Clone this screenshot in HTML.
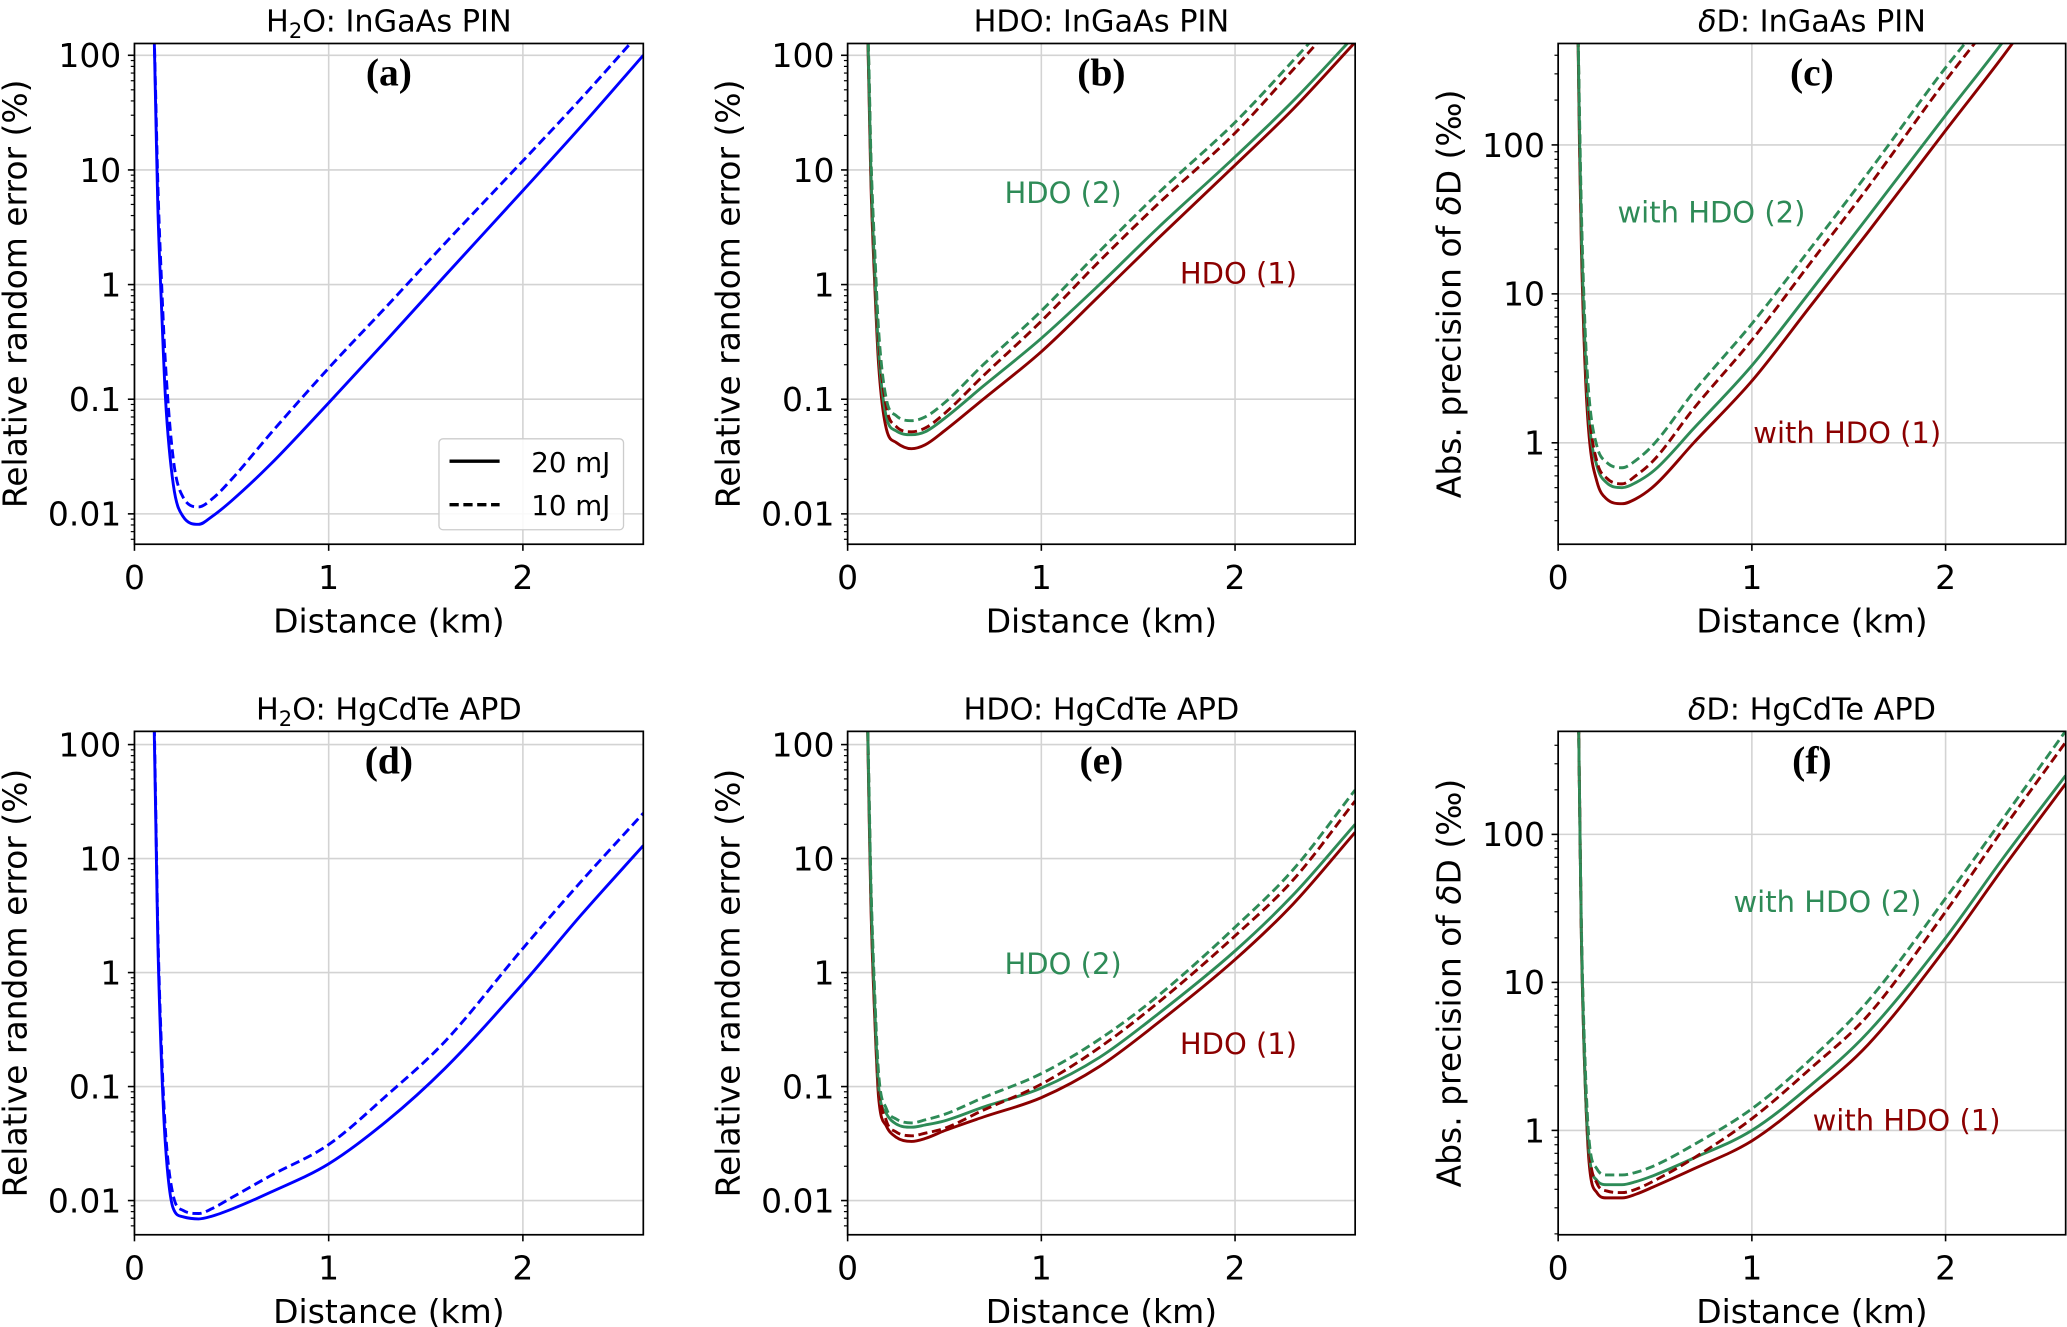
<!DOCTYPE html>
<html><head><meta charset="utf-8">
<style>
html,body{margin:0;padding:0;background:#fff}
svg{display:block}
text{font-family:"DejaVu Sans","Liberation Sans",sans-serif;fill:#000}
</style></head>
<body>
<svg id="fig" width="2067" height="1327" viewBox="0 0 1568 1007" preserveAspectRatio="none" xmlns="http://www.w3.org/2000/svg"></svg>
<script>
// ---- data ----
const distances = [0.1,0.11,0.12,0.14,0.16,0.2,0.25,0.33,0.4,0.5,0.7,1.0,1.3,1.6,2.0,2.3,2.62];
const h2oPin20 = [200,30,5,0.6,0.1,0.018,0.0095,0.0081,0.0095,0.013,0.027,0.093,0.33,1.2,6.6,24,100];
const h2oPin10 = [200,40,8,1,0.2,0.03,0.014,0.0115,0.0135,0.02,0.05,0.187,0.65,2.3,12,42,170];
const hdoPin1_20 = [300,50,8,1,0.2,0.055,0.042,0.037,0.04,0.053,0.1,0.26,0.8,2.5,11,34,130];
const hdoPin2_20 = [300,60,10,1.3,0.26,0.07,0.053,0.049,0.052,0.068,0.13,0.34,1.0,3.1,13,40,150];
const hdoPin1_10 = [300,70,12,1.6,0.33,0.085,0.058,0.052,0.056,0.075,0.16,0.48,1.6,5,21,75,300];
const hdoPin2_10 = [300,80,14,2,0.4,0.1,0.072,0.065,0.07,0.093,0.2,0.59,1.95,6.2,26,90,350];
const dPin1_20 = [1000,100,20,3,1.1,0.55,0.42,0.39,0.42,0.52,1.0,2.6,8.2,26,125,400,1500];
const dPin2_20 = [1000,120,25,4,1.4,0.7,0.54,0.5,0.54,0.66,1.25,3.3,10.3,33,158,500,1900];
const dPin1_10 = [1000,140,30,4.5,1.6,0.75,0.58,0.53,0.6,0.78,1.7,4.9,16,52,270,850,3000];
const dPin2_10 = [1000,170,36,5.5,2,0.95,0.74,0.68,0.76,1.0,2.2,6.3,20,65,330,1000,3600];
const h2oApd20 = [200,20,2,0.15,0.03,0.0085,0.0072,0.0069,0.0073,0.0084,0.0118,0.021,0.05,0.145,0.8,3.2,13];
const h2oApd10 = [250,25,2.6,0.2,0.04,0.011,0.0082,0.0077,0.0085,0.0106,0.0165,0.031,0.084,0.25,1.63,6.3,25];
const hdoApd1_20 = [300,30,4,0.4,0.08,0.045,0.036,0.033,0.035,0.041,0.054,0.08,0.15,0.36,1.3,4.0,17];
const hdoApd2_20 = [300,35,5,0.5,0.1,0.058,0.047,0.044,0.046,0.05,0.066,0.097,0.18,0.43,1.55,4.8,20];
const hdoApd1_10 = [300,40,5.5,0.55,0.11,0.05,0.04,0.037,0.039,0.043,0.062,0.105,0.22,0.54,2.1,6.5,32];
const hdoApd2_10 = [300,45,6.5,0.65,0.13,0.064,0.052,0.048,0.051,0.057,0.08,0.13,0.26,0.62,2.5,8,40];
const dApd1_20 = [2000,200,20,2,0.6,0.38,0.35,0.35,0.37,0.42,0.55,0.85,1.7,3.8,17,60,220];
const dApd2_20 = [2000,200,20,2,0.7,0.46,0.43,0.43,0.45,0.5,0.65,1.0,2.0,4.6,20,70,250];
const dApd1_10 = [2000,200,22,2.4,0.75,0.44,0.39,0.38,0.4,0.46,0.65,1.2,2.6,6,30,110,420];
const dApd2_10 = [2000,200,24,2.7,0.85,0.55,0.5,0.5,0.52,0.58,0.8,1.4,3,7.5,37,130,500];
const xTicks = [0,1,2];
const yTicksErr = [0.01,0.1,1,10,100];
const yTickLabelsErr = ["0.01","0.1","1","10","100"];
const yTicksD = [1,10,100];
const yTickLabelsD = ["1","10","100"];

const NS="http://www.w3.org/2000/svg";
const svg=document.getElementById('fig');
function mk(tag,attrs,parent){const e=document.createElementNS(NS,tag);for(const k in attrs)e.setAttribute(k,attrs[k]);(parent||svg).appendChild(e);return e;}
const BLUE="#0000ff",GREEN="#2e8b57",RED="#8b0000";

function smoothPath(P){
  const n=P.length;const d=[],m=new Array(n);
  for(let i=0;i<n-1;i++)d.push((P[i+1][1]-P[i][1])/(P[i+1][0]-P[i][0]));
  m[0]=d[0];m[n-1]=d[n-2];
  for(let i=1;i<n-1;i++){m[i]=(d[i-1]*d[i]<=0)?0:(d[i-1]+d[i])/2;}
  for(let i=0;i<n-1;i++){
    if(d[i]===0){m[i]=0;m[i+1]=0;continue;}
    const a=m[i]/d[i],b=m[i+1]/d[i],s=a*a+b*b;
    if(s>9){const t=3/Math.sqrt(s);m[i]=t*a*d[i];m[i+1]=t*b*d[i];}
  }
  let s='M'+P[0][0].toFixed(2)+','+P[0][1].toFixed(2);
  for(let i=0;i<n-1;i++){
    const h=(P[i+1][0]-P[i][0])/3;
    s+=' C'+(P[i][0]+h).toFixed(2)+','+(P[i][1]+m[i]*h).toFixed(2)+' '+(P[i+1][0]-h).toFixed(2)+','+(P[i+1][1]-m[i+1]*h).toFixed(2)+' '+P[i+1][0].toFixed(2)+','+P[i+1][1].toFixed(2);
  }
  return s;
}

function panel(p){
  const g=mk('g',{});
  
  
  const xs=v=>p.x0+(v-0)/(2.62)*(p.x1-p.x0);
  const ys=v=>p.y1-(Math.log10(v)-p.lmin)/(p.lmax-p.lmin)*(p.y1-p.y0);
  const cp=mk('clipPath',{id:'clip'+p.id},g);
  mk('rect',{x:p.x0,y:p.y0,width:p.x1-p.x0,height:p.y1-p.y0},cp);
  p.xt.forEach(v=>{const l=mk('line',{x1:xs(v),x2:xs(v),y1:p.y0,y2:p.y1,stroke:'#d3d3d3','stroke-width':1.2},g);});
  p.yt.forEach(v=>{const l=mk('line',{x1:p.x0,x2:p.x1,y1:ys(v),y2:ys(v),stroke:'#d3d3d3','stroke-width':1.2},g);});
  const cg=mk('g',{'clip-path':'url(#clip'+p.id+')'},g);
  p.series.forEach(s=>{
    const P=distances.map((d,i)=>[xs(d),ys(s.v[i])]);
    const pl=mk('path',{d:smoothPath(P),fill:'none',stroke:s.c,'stroke-width':2.2,'stroke-linejoin':'round','stroke-dasharray':s.dash?'7,3.5':'none'},cg);
    
    
  });
  const fr=mk('rect',{x:p.x0,y:p.y0,width:p.x1-p.x0,height:p.y1-p.y0,fill:'none',stroke:'#000','stroke-width':1.3},g);
  
  p.xt.forEach(v=>{
    mk('line',{x1:xs(v),x2:xs(v),y1:p.y1,y2:p.y1+5,stroke:'#000','stroke-width':1.2},g);
    const t=mk('text',{x:xs(v),y:p.y1+34,'text-anchor':'middle','font-size':25},g);t.textContent=v;
    
  });
  for(let e=Math.floor(p.lmin);e<=Math.ceil(p.lmax);e++){
    for(let m=1;m<10;m++){
      const v=m*Math.pow(10,e);const lv=Math.log10(v);
      if(lv<p.lmin-1e-9||lv>p.lmax+1e-9)continue;
      mk('line',{x1:p.x0-(m===1?5:2.8),x2:p.x0,y1:ys(v),y2:ys(v),stroke:'#000','stroke-width':m===1?1.2:0.9},g);
    }
  }
  p.yt.forEach((v,i)=>{
    const t=mk('text',{x:p.x0-10,y:ys(v)+9,'text-anchor':'end','font-size':25},g);t.textContent=p.ytl[i];
    
  });
  const cx=(p.x0+p.x1)/2;
  const xl=mk('text',{x:cx,y:p.y1+67,'text-anchor':'middle','font-size':25},g);xl.textContent='Distance (km)';
  
  const cy=(p.y0+p.y1)/2;
  const yl=mk('text',{x:p.ylx,y:cy,'text-anchor':'middle','font-size':25,transform:`rotate(-90 ${p.ylx} ${cy})`},g);
  yl.innerHTML=p.ylab;
  
  const tt=mk('text',{x:cx,y:p.y0-9,'text-anchor':'middle','font-size':23},g);tt.innerHTML=p.title;
  
  const pl=mk('text',{x:cx,y:p.y0+32,'text-anchor':'middle','font-size':30,'font-weight':'bold'},g);
  pl.textContent='('+p.id+')';pl.style.fontFamily='"Liberation Serif",serif';
  
  (p.ann||[]).forEach(a=>{
    const t=mk('text',{x:a.x,y:a.y,'font-size':22,fill:a.c},g);t.textContent=a.t;t.style.fill=a.c;
    
  });
  return {g,xs,ys};
}

const ERR='Relative random error (%)';
const DLAB='Abs. precision of <tspan font-style="italic">δ</tspan>D (‰)';
const cols=[[102,488],[643,1028],[1182,1567]];
const r1=[33,413], r2=[555,937];
const S=(v,c,dash,name)=>({v,c,dash,name});

const a=panel({id:'a',x0:cols[0][0],x1:cols[0][1],y0:r1[0],y1:r1[1],lmin:-2.265,lmax:2.103,xt:xTicks,yt:yTicksErr,ytl:yTickLabelsErr,ylx:20,ylab:ERR,
 title:'H<tspan font-size="16" dy="5">2</tspan><tspan dy="-5">O: InGaAs PIN</tspan>',
 series:[S(h2oPin20,BLUE,false,'h2o-20mj-line'),S(h2oPin10,BLUE,true,'h2o-10mj-line')]});
const lg=mk('g',{},a.g);
mk('rect',{x:333,y:333,width:140,height:69,rx:3,fill:'#fff','fill-opacity':0.85,stroke:'#ccc','stroke-width':1},lg);
mk('line',{x1:341,x2:379,y1:350,y2:350,stroke:'#000','stroke-width':2.6},lg);
mk('line',{x1:341,x2:379,y1:383,y2:383,stroke:'#000','stroke-width':2.6,'stroke-dasharray':'7,3.5'},lg);
let t1=mk('text',{x:403,y:358,'font-size':21},lg);t1.textContent='20 mJ';
let t2=mk('text',{x:403,y:391,'font-size':21},lg);t2.textContent='10 mJ';

panel({id:'b',x0:cols[1][0],x1:cols[1][1],y0:r1[0],y1:r1[1],lmin:-2.265,lmax:2.103,xt:xTicks,yt:yTicksErr,ytl:yTickLabelsErr,ylx:561,ylab:ERR,
 title:'HDO: InGaAs PIN',
 series:[S(hdoPin1_20,RED,false,'hdo1-20mj-line'),S(hdoPin2_20,GREEN,false,'hdo2-20mj-line'),S(hdoPin1_10,RED,true,'hdo1-10mj-line'),S(hdoPin2_10,GREEN,true,'hdo2-10mj-line')],
 ann:[{x:762,y:154,t:'HDO (2)',c:GREEN},{x:895,y:215,t:'HDO (1)',c:RED}]});
panel({id:'c',x0:cols[2][0],x1:cols[2][1],y0:r1[0],y1:r1[1],lmin:-0.681,lmax:2.681,xt:xTicks,yt:yTicksD,ytl:yTickLabelsD,ylx:1108,ylab:DLAB,
 title:'<tspan font-style="italic">δ</tspan>D: InGaAs PIN',
 series:[S(dPin1_20,RED,false,'dd-hdo1-20mj-line'),S(dPin2_20,GREEN,false,'dd-hdo2-20mj-line'),S(dPin1_10,RED,true,'dd-hdo1-10mj-line'),S(dPin2_10,GREEN,true,'dd-hdo2-10mj-line')],
 ann:[{x:1227,y:169,t:'with HDO (2)',c:GREEN},{x:1330,y:336,t:'with HDO (1)',c:RED}]});
panel({id:'d',x0:cols[0][0],x1:cols[0][1],y0:r2[0],y1:r2[1],lmin:-2.3,lmax:2.116,xt:xTicks,yt:yTicksErr,ytl:yTickLabelsErr,ylx:20,ylab:ERR,
 title:'H<tspan font-size="16" dy="5">2</tspan><tspan dy="-5">O: HgCdTe APD</tspan>',
 series:[S(h2oApd20,BLUE,false,'h2o-apd-20mj-line'),S(h2oApd10,BLUE,true,'h2o-apd-10mj-line')]});
panel({id:'e',x0:cols[1][0],x1:cols[1][1],y0:r2[0],y1:r2[1],lmin:-2.3,lmax:2.116,xt:xTicks,yt:yTicksErr,ytl:yTickLabelsErr,ylx:561,ylab:ERR,
 title:'HDO: HgCdTe APD',
 series:[S(hdoApd1_20,RED,false,'hdo1-apd-20mj-line'),S(hdoApd2_20,GREEN,false,'hdo2-apd-20mj-line'),S(hdoApd1_10,RED,true,'hdo1-apd-10mj-line'),S(hdoApd2_10,GREEN,true,'hdo2-apd-10mj-line')],
 ann:[{x:762,y:739,t:'HDO (2)',c:GREEN},{x:895,y:800,t:'HDO (1)',c:RED}]});
panel({id:'f',x0:cols[2][0],x1:cols[2][1],y0:r2[0],y1:r2[1],lmin:-0.705,lmax:2.696,xt:xTicks,yt:yTicksD,ytl:yTickLabelsD,ylx:1108,ylab:DLAB,
 title:'<tspan font-style="italic">δ</tspan>D: HgCdTe APD',
 series:[S(dApd1_20,RED,false,'dd-apd-hdo1-20mj-line'),S(dApd2_20,GREEN,false,'dd-apd-hdo2-20mj-line'),S(dApd1_10,RED,true,'dd-apd-hdo1-10mj-line'),S(dApd2_10,GREEN,true,'dd-apd-hdo2-10mj-line')],
 ann:[{x:1315,y:692,t:'with HDO (2)',c:GREEN},{x:1375,y:858,t:'with HDO (1)',c:RED}]});
</script>
</body></html>
